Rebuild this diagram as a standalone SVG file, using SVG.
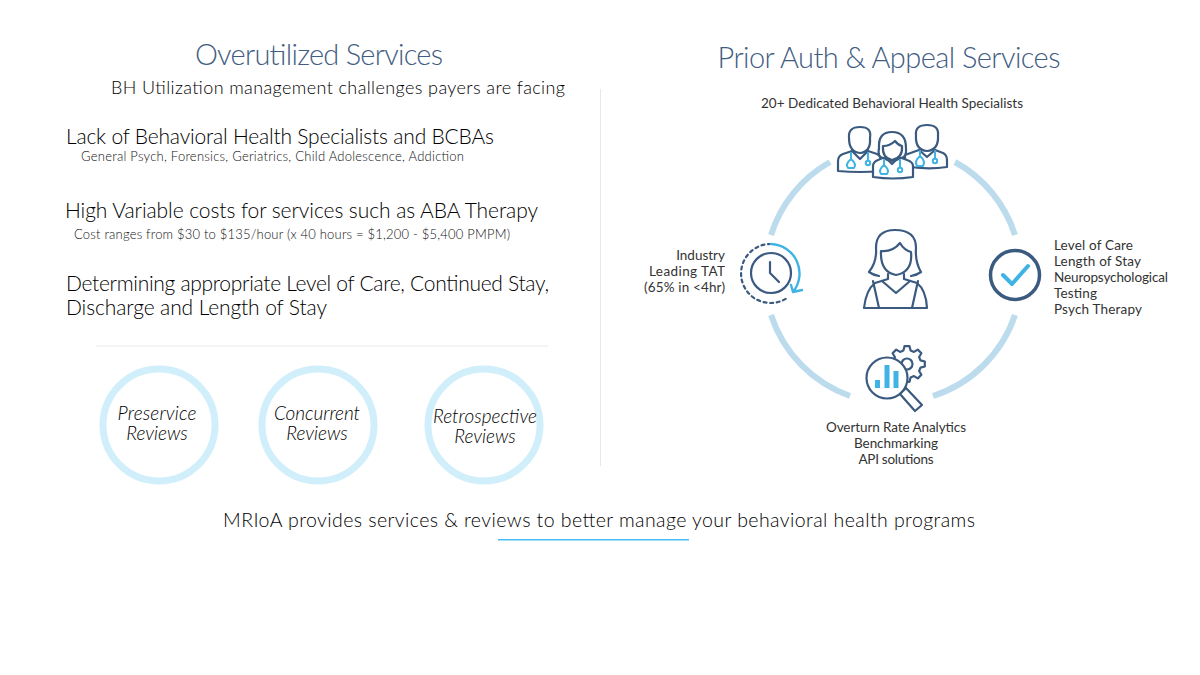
<svg xmlns="http://www.w3.org/2000/svg" width="1200" height="675" viewBox="0 0 1200 675">
<style>
text{font-family:Lato,"Open Sans","Liberation Sans",sans-serif;font-weight:300;fill:#111}
.h{font-size:29px;font-weight:300;fill:#3f5d82;text-anchor:middle}
.b{font-size:21px;font-weight:300;fill:#000}
.s{font-size:13px;font-weight:300;fill:#111}
.l{font-size:13.500px;font-weight:400;fill:#333}
.m{text-anchor:middle}
.r{fill:none;stroke:#d0effb;stroke-width:7}
.i{font-size:19px;font-weight:300;font-style:italic;text-anchor:middle;fill:#000}
.arc{fill:none;stroke:#bcdcee;stroke-width:6}
.ic{fill:none;stroke:#3b5a80;stroke-width:2.200;stroke-linejoin:round;stroke-linecap:round}
.ib{fill:none;stroke:#3fb3e3;stroke-width:2;stroke-linejoin:round;stroke-linecap:round}
.f{fill:#fff}
.sep{stroke:#e8e8e8;stroke-width:1;fill:none}
</style>
<g id="left-panel">
<text class="h" x="319" y="64.500" textLength="248">Overutilized Services</text>
<text x="111" y="93.500" textLength="454" style="font-size:18px;font-weight:300;fill:#000">BH Utilization management challenges payers are facing</text>
<text class="b" x="66" y="143.500" textLength="428">Lack of Behavioral Health Specialists and BCBAs</text>
<text class="s" x="81" y="161" textLength="383">General Psych, Forensics, Geriatrics, Child Adolescence, Addiction</text>
<text class="b" x="65" y="217.500" textLength="473">High Variable costs for services such as ABA Therapy</text>
<text class="s" x="74" y="239" textLength="436">Cost ranges from $30 to $135/hour (x 40 hours = $1,200 - $5,400 PMPM)</text>
<text class="b" x="66" y="290.500" textLength="483">Determining appropriate Level of Care, Continued Stay,</text>
<text class="b" x="66" y="314.500" textLength="261">Discharge and Length of Stay</text>
<line class="sep" x1="96" y1="346" x2="548" y2="346"/>
<line class="sep" x1="600.500" y1="89" x2="600.500" y2="466"/>
</g>
<g id="node-preservice"><circle class="r" cx="159" cy="425" r="56"/><text class="i"><tspan x="157" y="420" textLength="79">Preservice</tspan><tspan x="157" y="440">Reviews</tspan></text></g>
<g id="node-concurrent"><circle class="r" cx="318" cy="425" r="56"/><text class="i"><tspan x="317" y="420" textLength="86">Concurrent</tspan><tspan x="317" y="440">Reviews</tspan></text></g>
<g id="node-retrospective"><circle class="r" cx="484" cy="425" r="56"/><text class="i"><tspan x="485" y="423" textLength="104">Retrospective</tspan><tspan x="485" y="443">Reviews</tspan></text></g>
<g id="footer">
<text x="223" y="526.500" textLength="752" style="font-size:19.500px;font-weight:300;fill:#000">MRIoA provides services &amp; reviews to better manage your behavioral health programs</text>
<rect x="498" y="539" width="191" height="1.500" fill="#45c0f5"/>
</g>
<g id="connectors">
<path class="arc" d="M830 162 A128 128 0 0 0 771 235"/>
<path class="arc" d="M955 162 A128 128 0 0 1 1015 235"/>
<path class="arc" d="M771 315 A128 128 0 0 0 850 396"/>
<path class="arc" d="M1015 315 A128 128 0 0 1 933 396"/>
</g>
<g id="right-panel">
<text class="h" x="889" y="67.500" textLength="343">Prior Auth &amp; Appeal Services</text>
<text class="l m" x="892" y="108" textLength="262">20+ Dedicated Behavioral Health Specialists</text>
</g>
<g id="node-doctors">
<g id="doctor-right">
<path class="ic f" d="M905 166 V155 L919 150 L927 157 L935 150 L943 153 Q947 155 947 160 V167 Q926 170 905 166Z"/>
<path class="ic f" d="M916 135 Q915 125 927 125 Q939 125 938 135 Q939 150 927 151 Q915 150 916 135Z"/>
<path class="ib" d="M920 151 V156 M917 166 Q914 161 920 156 Q926 161 923 166Z M935 151 V158"/>
<circle class="ib" cx="935" cy="161" r="2.200"/>
</g>
<g id="doctor-left">
<path class="ic f" d="M838 171 V161 Q838 156 843 154 L852 151 L860 159 L868 151 L877 154 Q881 156 881 161 V171 Q860 173 838 171Z"/>
<path class="ic f" d="M849 138 Q848 127 860 127 Q872 127 870 138 Q871 152 860 153 Q849 152 849 138Z"/>
<path class="ib" d="M851 153 V159 M848 168 Q845 164 851 159 Q857 164 854 168Z M868 153 V160"/>
<circle class="ib" cx="868" cy="163" r="2.200"/>
</g>
<g id="doctor-middle">
<path class="ic f" d="M873 177 V166 Q873 162 878 160 L885 157 L892 164 L899 157 L907 160 Q913 162 913 166 V177 Q893 180 873 177Z"/>
<path class="ic f" d="M884 158 Q877 158 879 148 Q878 132 892 132 Q906 132 906 148 Q907 158 900 158 Q896 161 892 161 Q888 161 884 158Z"/>
<path class="ic" d="M883 146 Q890 146 895 141 Q898 145 902 146 Q903 158 892 160 Q882 158 883 146Z"/>
<path class="ib" d="M884 160 V165 M881 174 Q878 170 884 165 Q890 170 887 174Z M900 160 V167"/>
<circle class="ib" cx="900" cy="170" r="2.200"/>
</g>
</g>
<g id="node-person">
<path class="ic" d="M879 276 Q873 275 869 272 Q877 262 876 248 Q876 230 895 230 Q916 230 916 248 Q915 262 921 272 Q917 275 911 276"/>
<path class="ic" d="M881 251 Q893 252 900 243 Q904 250 911 252 Q913 272 896 275 Q880 272 881 251Z"/>
<path class="ic" d="M888 274 V279 L875 283 Q866 290 864 308 H927 Q926 290 917 283 L904 279 V274"/>
<path class="ic" d="M873 281 L879 308 M918 281 L912 308 M882 281 L896 293 L910 281"/>
</g>
<g id="node-tat">
<text class="l" x="725" y="260" text-anchor="end">Industry</text>
<text class="l" x="725" y="276" text-anchor="end" textLength="76">Leading TAT</text>
<text class="l" x="725" y="292" text-anchor="end" textLength="81">(65% in &lt;4hr)</text>
<circle class="ic" cx="771" cy="273" r="20"/>
<path class="ic" d="M770 262 V273 L779 282"/>
<path class="ic" stroke-dasharray="3 3.600" d="M771 244 A29.500 29.500 0 1 0 787 298"/>
<path class="ib" style="stroke-width:2.400" d="M771 244 A29.500 29.500 0 0 1 793 292 M791 285 L793 292 L802 290"/>
</g>
<g id="node-check">
<circle cx="1015" cy="275" r="24.500" fill="none" stroke="#3b5a80" stroke-width="3.500"/>
<path d="M1003 275 L1012 284 L1028 266" fill="none" stroke="#3fb3e3" stroke-width="4" stroke-linecap="round" stroke-linejoin="round"/>
<text class="l" x="1054" y="250" textLength="79">Level of Care</text>
<text class="l" x="1054" y="266" textLength="87">Length of Stay</text>
<text class="l" x="1054" y="282" textLength="114">Neuropsychological</text>
<text class="l" x="1054" y="298" textLength="43">Testing</text>
<text class="l" x="1054" y="314" textLength="88">Psych Therapy</text>
</g>
<g id="node-analytics">
<polygon class="ic" transform="translate(907,364)" points="13.500,-3.600 17.800,-2.500 17.800,2.500 13.500,3.600 12.100,7 14.400,10.800 10.800,14.400 7,12.100 3.600,13.500 2.500,17.800 -2.500,17.800 -3.600,13.500 -7,12.100 -10.800,14.400 -14.400,10.800 -12.100,7 -13.500,3.600 -17.800,2.500 -17.800,-2.500 -13.500,-3.600 -12.100,-7 -14.400,-10.800 -10.800,-14.400 -7,-12.100 -3.600,-13.500 -2.500,-17.800 2.500,-17.800 3.600,-13.500 7,-12.100 10.800,-14.400 14.400,-10.800 12.100,-7"/>
<circle class="ic" cx="907" cy="364" r="5.500"/>
<circle class="ic f" cx="887" cy="378" r="20.500"/>
<path class="ic f" d="M900 394 L906 388 L922 405 L915 411Z"/>
<rect x="875" y="380" width="5" height="8" fill="#3fb3e3"/>
<rect x="884.500" y="365" width="5" height="23" fill="#3fb3e3"/>
<rect x="893.500" y="371" width="5" height="17" fill="#3fb3e3"/>
<text class="l m" x="896" y="432" textLength="140">Overturn Rate Analytics</text>
<text class="l m" x="896" y="448" textLength="84">Benchmarking</text>
<text class="l m" x="896" y="464" textLength="75">API solutions</text>
</g>
</svg>
